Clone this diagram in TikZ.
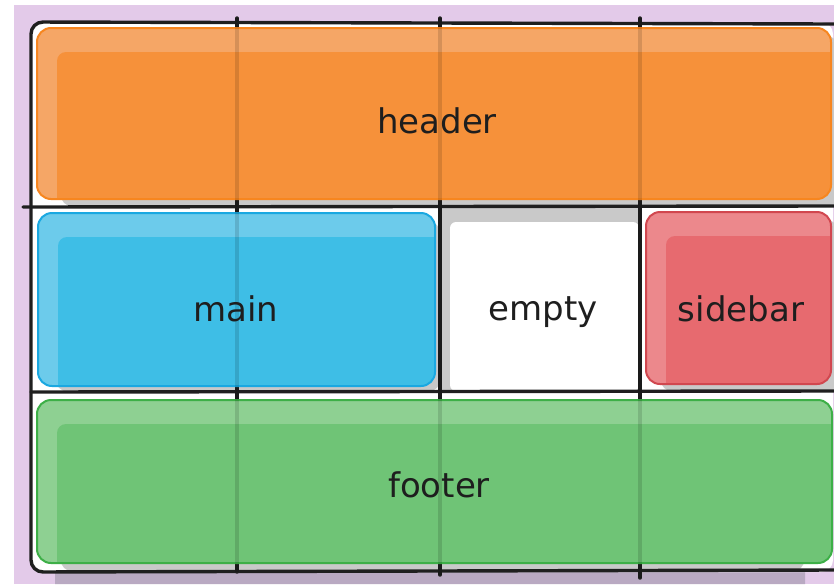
\documentclass[tikz,border=0pt]{standalone}
\usepackage{fontspec}
\setmainfont{DejaVu Sans}
\definecolor{lav}{HTML}{E3CAE9}
\definecolor{lavsh}{HTML}{B9A9C2}
\definecolor{shgray}{HTML}{C9C9C9}
\definecolor{orL}{HTML}{F5A666}
\definecolor{orD}{HTML}{F6913A}
\definecolor{orB}{HTML}{F7861F}
\definecolor{blL}{HTML}{6CCBEB}
\definecolor{blD}{HTML}{3EBEE6}
\definecolor{blB}{HTML}{1AA8E1}
\definecolor{rdL}{HTML}{EC888C}
\definecolor{rdD}{HTML}{E76A6F}
\definecolor{rdB}{HTML}{D1474F}
\definecolor{grL}{HTML}{8ED092}
\definecolor{grD}{HTML}{6FC476}
\definecolor{grB}{HTML}{3DAF47}
\definecolor{txt}{HTML}{1E1E1E}
\newcommand\glossbox[7]{%
  \begin{scope}
    \clip[rounded corners=14pt] (#1,#2) rectangle (#3,#4);
    \fill[#5] (#1,#2) rectangle (#3,#4);
    \fill[#6, rounded corners=9pt] ({#1+20},{#2+24}) rectangle ({#3+12},{#4+12});
  \end{scope}
  \draw[#7, line width=2pt, rounded corners=14pt] (#1,#2) rectangle (#3,#4);
}
\tikzset{
  gridline/.style={line width=3.4pt, black!88, line cap=round},
  gridover/.style={line width=3.4pt, black, opacity=0.13},
  lbl/.style={font=\fontsize{34}{40}\selectfont, text=txt, anchor=base, inner sep=0pt}
}
\begin{document}
\begin{tikzpicture}[x=1pt,y=-1pt]
\useasboundingbox (0,0) rectangle (834,584);
% background
\fill[lav] (14,5) rectangle (834,584);
\fill[lavsh] (55,572) -- (805,570) -- (805,584) -- (55,584) -- cycle;
% frame interior
\fill[white, rounded corners=12pt] (31,22) rectangle (833,572);
% shadows
\fill[shgray, rounded corners=14pt] (60,36) rectangle (840,207);
\fill[shgray, rounded corners=14pt] (55,221) rectangle (441,392);
\fill[shgray, rounded corners=14pt] (660,220) rectangle (840,392);
\fill[shgray, rounded corners=14pt] (60,408) rectangle (805,572);
% empty cell
\fill[shgray] (441,208) rectangle (640,392);
\fill[white, rounded corners=6pt] (450,222) -- (450,391) -- (639,391) -- (639,222) -- cycle;
% grid
\draw[gridline, rounded corners=12pt] (834,24) -- (31,22) -- (31,572) -- (834,570);
\draw[gridline] (23,207) -- (834,206);
\draw[gridline] (31,392) -- (834,391);
\draw[gridline] (237,18) -- (237,572);
\draw[gridline] (440,18) -- (440,575);
\draw[gridline] (640,18) -- (640,578);
% boxes
\glossbox{37}{28}{831}{199}{orL}{orD}{orB}
\glossbox{38}{213}{435}{386}{blL}{blD}{blB}
\glossbox{646}{212}{831}{384}{rdL}{rdD}{rdB}
\glossbox{37}{400}{832}{563}{grL}{grD}{grB}
% grid showing through
\draw[gridover] (237,18) -- (237,572);
\draw[gridover] (440,18) -- (440,575);
\draw[gridover] (640,18) -- (640,578);
% labels
\node[lbl] (header) at (437,133) {header};
\node[lbl] (main) at (236,321) {main};
\node[lbl] (empty) at (543,320) {empty};
\node[lbl] (sidebar) at (741,321) {sidebar};
\node[lbl] (footer) at (439,497) {footer};
\end{tikzpicture}
\end{document}
